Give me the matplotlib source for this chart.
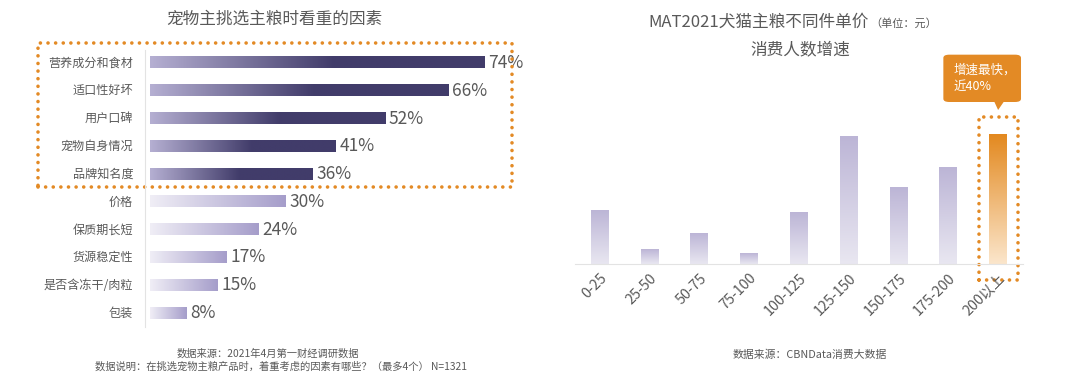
import matplotlib.pyplot as plt
from matplotlib.patches import Rectangle, FancyBboxPatch, Polygon
from matplotlib.lines import Line2D
from matplotlib.colors import LinearSegmentedColormap
import numpy as np

plt.rcParams['font.family'] = ['Noto Sans CJK SC', 'DejaVu Sans']

W, H = 1080, 376
ORANGE = '#E38A25'
TEXT = '#595959'

# left chart data
factors = ['营养成分和食材', '适口性好坏', '用户口碑', '宠物自身情况', '品牌知名度',
           '价格', '保质期长短', '货源稳定性', '是否含冻干/肉粒', '包装']
shares = [74, 66, 52, 41, 36, 30, 24, 17, 15, 8]
n_top = 5

# right chart data
price_bands = ['0-25', '25-50', '50-75', '75-100', '100-125', '125-150',
               '150-175', '175-200', '200以上']
growth = [16, 4.5, 9.3, 3.3, 15.6, 38.4, 23, 29, 39]


def px_axes(fig, x0, y0, x1, y1):
    # pixel box (top-left origin) -> axes
    return fig.add_axes([x0 / W, 1 - y1 / H, (x1 - x0) / W, (y1 - y0) / H])


fig = plt.figure(figsize=(W / 100, H / 100), dpi=100)
fig.patch.set_facecolor('white')

# ---------------- left chart ----------------
ax = px_axes(fig, 150, 49, 512, 327)
ax.axis('off')

cm_top = LinearSegmentedColormap.from_list('top', ['#b5afd2', '#413c6a'])
cm_low = LinearSegmentedColormap.from_list('low', ['#f0eef6', '#a59dca'])
ramp = np.linspace(0, 1, 256)
for i, (name, v) in enumerate(zip(factors, shares)):
    if i < n_top:
        grad = np.clip(ramp / 0.55, 0, 1)[None, :]
        cmap = cm_top
    else:
        grad = ramp[None, :]
        cmap = cm_low
    ax.imshow(grad, extent=[0, v, i + 0.2, i - 0.2], aspect='auto', cmap=cmap,
              vmin=0, vmax=1, interpolation='bilinear')
    ax.text(v + 0.8, i, f'{v}%', va='center', ha='left', fontsize=12.5, color=TEXT)
    ax.text(-3.7, i, name, va='center', ha='right', fontsize=8.7, color=TEXT)
ax.set_xlim(0, 80)
ax.set_ylim(len(factors) - 0.5, -0.5)

fig.add_artist(Line2D([145 / W, 145 / W], [1 - 50 / H, 1 - 327 / H], color='#e3e3e3', lw=0.8))

fig.text(274 / W, 1 - 19 / H, '宠物主挑选主粮时看重的因素', ha='center', va='center',
         fontsize=12, color=TEXT)

# orange dotted highlight box
fig.add_artist(Rectangle((38 / W, 1 - 187 / H), (512 - 38) / W, (187 - 43) / H,
                         fill=False, edgecolor=ORANGE, lw=2.6,
                         linestyle=(0, (0.01, 2.1)), capstyle='round'))

fig.text(268 / W, 1 - 354 / H, '数据来源：2021年4月第一财经调研数据', ha='center', va='center',
         fontsize=7.4, color=TEXT)
fig.text(281 / W, 1 - 367 / H, '数据说明：在挑选宠物主粮产品时，着重考虑的因素有哪些？（最多4个） N=1321',
         ha='center', va='center', fontsize=7.4, color=TEXT)

# ---------------- right chart ----------------
ax2 = px_axes(fig, 575, 114, 1023, 264)
for s in ['top', 'right', 'left']:
    ax2.spines[s].set_visible(False)
ax2.spines['bottom'].set_color('#e3e3e3')
ax2.spines['bottom'].set_linewidth(0.8)
ax2.set_yticks([])

cm_bar = LinearSegmentedColormap.from_list('bar', ['#e9e7f1', '#bcb5d6'])
cm_hi = LinearSegmentedColormap.from_list('hi', ['#fbe6cc', '#e3891f'])
vert = np.linspace(0, 1, 256)[:, None]
bw = 0.36
for i, v in enumerate(growth):
    cmap = cm_hi if i == len(growth) - 1 else cm_bar
    ax2.imshow(vert, extent=[i - bw / 2, i + bw / 2, 0, v], origin='lower', aspect='auto',
               cmap=cmap, vmin=0, vmax=1, interpolation='bilinear')
ax2.set_xlim(-0.5, len(price_bands) - 0.5)
ax2.set_ylim(0, 45)

ax2.set_xticks(range(len(price_bands)))
ax2.set_xticklabels(price_bands, rotation=45, ha='right', va='top', rotation_mode='anchor',
                    fontsize=10.3, color=TEXT)
ax2.tick_params(axis='x', length=0, pad=5)

# dotted box around the last bar
last = len(growth) - 1
ax2.add_patch(Rectangle((last - 0.39, -4.8), 0.78, growth[last] + 5 + 4.8, fill=False,
                        edgecolor=ORANGE, lw=2.6, linestyle=(0, (0.01, 2.1)),
                        capstyle='round', clip_on=False))

# callout bubble
ax2.add_patch(FancyBboxPatch((6.9, 48.6), 1.56, 14.2,
                             boxstyle='round,pad=0,rounding_size=0.12',
                             mutation_aspect=8, facecolor=ORANGE, edgecolor='none',
                             clip_on=False))
ax2.add_patch(Polygon([[last - 0.08, 48.8], [last + 0.12, 48.8], [last, 46.2]],
                      closed=True, facecolor=ORANGE, edgecolor='none', clip_on=False))
ax2.text(7.1, 55.8, '增速最快，\n近40%', ha='left', va='center', fontsize=9,
         color='white', linespacing=1.3)

fig.text(648 / W, 1 - 22 / H, 'MAT2021犬猫主粮不同件单价', ha='left', va='center',
         fontsize=12, color=TEXT)
fig.text(870 / W, 1 - 23 / H, '（单位：元）', ha='left', va='center',
         fontsize=8, color=TEXT)
fig.text(800 / W, 1 - 50 / H, '消费人数增速', ha='center', va='center', fontsize=12, color=TEXT)
fig.text(810 / W, 1 - 355 / H, '数据来源：CBNData消费大数据', ha='center', va='center',
         fontsize=7.8, color=TEXT)

fig.savefig('out.png', dpi=100)
